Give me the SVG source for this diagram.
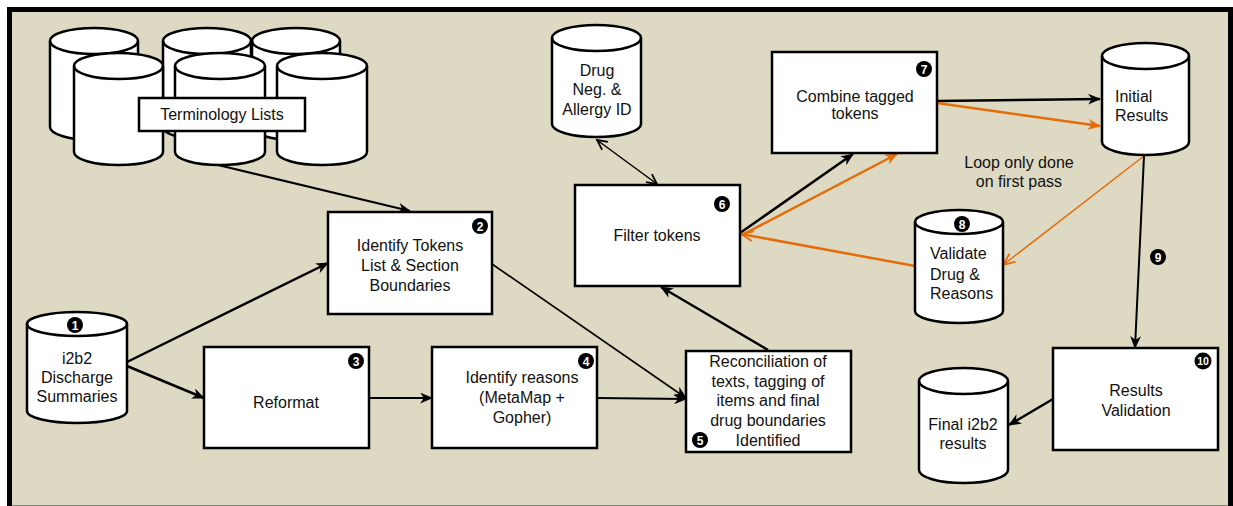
<svg xmlns="http://www.w3.org/2000/svg" width="1233" height="506" viewBox="0 0 1233 506">
<defs>
<style>
.box{fill:#fff;stroke:#000;stroke-width:2.5}
.cyl{fill:#fff;stroke:#000;stroke-width:2.5;stroke-linejoin:round}
.rim{fill:none;stroke:#000;stroke-width:2.5}
.t{font-family:"Liberation Sans",Arial,sans-serif;font-size:16px;fill:#111;text-anchor:middle}
.n{fill:#000}
.nt{font-family:"Liberation Sans",Arial,sans-serif;font-size:12px;font-weight:bold;fill:#fff;text-anchor:middle}
.k{fill:none;stroke:#000}
.o{fill:none;stroke:#E46C0A}
</style>
<marker id="ah" viewBox="0 0 12 10" refX="11" refY="5" markerWidth="13" markerHeight="11" markerUnits="userSpaceOnUse" orient="auto"><path d="M0,0 L12,5 L0,10 L3.5,5 Z" fill="#000"/></marker>
<marker id="aho" viewBox="0 0 12 10" refX="11" refY="5" markerWidth="13" markerHeight="11" markerUnits="userSpaceOnUse" orient="auto"><path d="M0,0 L12,5 L0,10 L3.5,5 Z" fill="#E46C0A"/></marker>
<marker id="av" viewBox="0 0 12 12" refX="11" refY="6" markerWidth="12" markerHeight="12" markerUnits="userSpaceOnUse" orient="auto-start-reverse"><path d="M1,1 L11,6 L1,11" fill="none" stroke="#000" stroke-width="1.8"/></marker>
<marker id="avo" viewBox="0 0 14 12" refX="13" refY="6" markerWidth="14" markerHeight="12" markerUnits="userSpaceOnUse" orient="auto"><path d="M1,1 L13,6 L1,11" fill="none" stroke="#E46C0A" stroke-width="1.8"/></marker>
</defs>
<rect x="0" y="0" width="1233" height="506" fill="#fff"/>
<rect x="9.5" y="9.5" width="1221" height="500" fill="#DDD9C3" stroke="#000" stroke-width="5"/>
<line x1="12" y1="505.5" x2="1228" y2="505.5" stroke="#7f7f75" stroke-width="1"/>

<g id="terminology">
<path class="cyl" d="M50,41 V127 A44,13 0 0 0 138,127 V41 A44,13 0 0 0 50,41 Z"/><path class="rim" d="M50,41 A44,13 0 0 0 138,41"/>
<path class="cyl" d="M252,41 V127 A44,13 0 0 0 340,127 V41 A44,13 0 0 0 252,41 Z"/><path class="rim" d="M252,41 A44,13 0 0 0 340,41"/>
<path class="cyl" d="M163,41 V127 A44,13 0 0 0 251,127 V41 A44,13 0 0 0 163,41 Z"/><path class="rim" d="M163,41 A44,13 0 0 0 251,41"/>
<path class="cyl" d="M74,66 V152 A44.5,13 0 0 0 163,152 V66 A44.5,13 0 0 0 74,66 Z"/><path class="rim" d="M74,66 A44.5,13 0 0 0 163,66"/>
<path class="cyl" d="M175,66 V152 A45,13 0 0 0 265,152 V66 A45,13 0 0 0 175,66 Z"/><path class="rim" d="M175,66 A45,13 0 0 0 265,66"/>
<path class="cyl" d="M277,66 V152 A45,13 0 0 0 367,152 V66 A45,13 0 0 0 277,66 Z"/><path class="rim" d="M277,66 A45,13 0 0 0 367,66"/>
<rect class="box" x="139" y="98" width="166" height="33" stroke-width="2"/>
<text class="t" x="222" y="120">Terminology Lists</text>
</g>

<g id="connectors">
<line class="k" x1="218" y1="165" x2="410" y2="211" stroke-width="2" marker-end="url(#ah)"/>
<line class="k" x1="127" y1="362" x2="328" y2="263" stroke-width="2.5" marker-end="url(#ah)"/>
<line class="k" x1="127" y1="366" x2="204" y2="398" stroke-width="2.5" marker-end="url(#ah)"/>
<line class="k" x1="369" y1="398" x2="432" y2="398" stroke-width="2" marker-end="url(#ah)"/>
<line class="k" x1="597" y1="398" x2="686" y2="399" stroke-width="2" marker-end="url(#ah)"/>
<line class="k" x1="492" y1="264" x2="686" y2="398" stroke-width="1.6" marker-end="url(#ah)"/>
<line class="k" x1="768" y1="350" x2="661" y2="287" stroke-width="2.5" marker-end="url(#ah)"/>
<line class="k" x1="597" y1="140" x2="657" y2="184" stroke-width="1.5" marker-start="url(#av)" marker-end="url(#av)"/>
<line class="k" x1="740" y1="233" x2="853" y2="154" stroke-width="2.5" marker-end="url(#ah)"/>
<line class="o" x1="742" y1="235" x2="897" y2="154" stroke-width="2.5" marker-end="url(#aho)"/>
<line class="k" x1="937" y1="101" x2="1100" y2="99" stroke-width="2.5" marker-end="url(#ah)"/>
<line class="o" x1="937" y1="103" x2="1100" y2="126" stroke-width="2.5" marker-end="url(#aho)"/>
<line class="o" x1="1144" y1="156" x2="1003" y2="265" stroke-width="1.5" marker-end="url(#avo)"/>
<line class="o" x1="915" y1="266" x2="741" y2="234" stroke-width="2.5" marker-end="url(#avo)"/>
<line class="k" x1="1144" y1="156" x2="1135" y2="348" stroke-width="2" marker-end="url(#ah)"/>
<line class="k" x1="1053" y1="399" x2="1009" y2="425" stroke-width="2.5" marker-end="url(#ah)"/>
</g>

<g id="i2b2">
<path class="cyl" d="M27,324 V411 A50,12 0 0 0 127,411 V324 A50,12 0 0 0 27,324 Z"/><path class="rim" d="M27,324 A50,12 0 0 0 127,324"/>
<circle class="n" cx="75" cy="325" r="8"/><text class="nt" x="75" y="329.5">1</text>
<text class="t" x="77" y="364">i2b2</text>
<text class="t" x="77" y="383">Discharge</text>
<text class="t" x="77" y="402">Summaries</text>
</g>

<g id="identify-tokens">
<rect class="box" x="328" y="212" width="164" height="102"/>
<circle class="n" cx="480" cy="226" r="8"/><text class="nt" x="480" y="230.5">2</text>
<text class="t" x="410" y="251">Identify Tokens</text>
<text class="t" x="410" y="271">List &amp; Section</text>
<text class="t" x="410" y="291">Boundaries</text>
</g>

<g id="reformat">
<rect class="box" x="204" y="347" width="165" height="101"/>
<circle class="n" cx="356" cy="361" r="8"/><text class="nt" x="356" y="365.5">3</text>
<text class="t" x="286" y="408">Reformat</text>
</g>

<g id="identify-reasons">
<rect class="box" x="432" y="347" width="165" height="101"/>
<circle class="n" cx="586" cy="361" r="8"/><text class="nt" x="586" y="365.5">4</text>
<text class="t" x="522" y="383">Identify reasons</text>
<text class="t" x="522" y="403">(MetaMap +</text>
<text class="t" x="522" y="423">Gopher)</text>
</g>

<g id="reconciliation">
<rect class="box" x="686" y="351" width="165" height="101"/>
<circle class="n" cx="700" cy="440" r="8"/><text class="nt" x="700" y="444.5">5</text>
<text class="t" x="768" y="367">Reconciliation of</text>
<text class="t" x="768" y="387">texts, tagging of</text>
<text class="t" x="768" y="406">items and final</text>
<text class="t" x="768" y="426">drug boundaries</text>
<text class="t" x="768" y="446">Identified</text>
</g>

<g id="drug-neg">
<path class="cyl" d="M552,38 V124 A44.5,13 0 0 0 641,124 V38 A44.5,13 0 0 0 552,38 Z"/><path class="rim" d="M552,38 A44.5,13 0 0 0 641,38"/>
<text class="t" x="597" y="76">Drug</text>
<text class="t" x="597" y="95">Neg. &amp;</text>
<text class="t" x="597" y="115">Allergy ID</text>
</g>

<g id="filter-tokens">
<rect class="box" x="575" y="185" width="165" height="101"/>
<circle class="n" cx="722" cy="204" r="8"/><text class="nt" x="722" y="208.5">6</text>
<text class="t" x="657" y="241">Filter tokens</text>
</g>

<g id="combine">
<rect class="box" x="772" y="52" width="165" height="101"/>
<circle class="n" cx="924" cy="69" r="8"/><text class="nt" x="924" y="73.5">7</text>
<text class="t" x="855" y="102">Combine tagged</text>
<text class="t" x="855" y="119">tokens</text>
</g>

<g id="initial-results">
<path class="cyl" d="M1102,56 V142 A43.5,13 0 0 0 1189,142 V56 A43.5,13 0 0 0 1102,56 Z"/><path class="rim" d="M1102,56 A43.5,13 0 0 0 1189,56"/>
<text class="t" x="1115" y="102" style="text-anchor:start">Initial</text>
<text class="t" x="1115" y="121" style="text-anchor:start">Results</text>
</g>

<g id="loop-note">
<text class="t" x="1019" y="168">Loop only done</text>
<text class="t" x="1019" y="187">on first pass</text>
</g>

<g id="validate">
<path class="cyl" d="M915,222 V311 A44,12 0 0 0 1003,311 V222 A44,12 0 0 0 915,222 Z"/><path class="rim" d="M915,222 A44,12 0 0 0 1003,222"/>
<circle class="n" cx="962" cy="224" r="8"/><text class="nt" x="962" y="228.5">8</text>
<text class="t" x="930" y="259" style="text-anchor:start">Validate</text>
<text class="t" x="930" y="280" style="text-anchor:start">Drug &amp;</text>
<text class="t" x="930" y="299" style="text-anchor:start">Reasons</text>
</g>

<g id="step9">
<circle class="n" cx="1158" cy="257" r="8"/><text class="nt" x="1158" y="261.5">9</text>
</g>

<g id="results-validation">
<rect class="box" x="1053" y="348" width="165" height="102"/>
<circle class="n" cx="1203" cy="361" r="8.5"/><text class="nt" x="1203" y="365" style="font-size:10.5px">10</text>
<text class="t" x="1136" y="396">Results</text>
<text class="t" x="1136" y="416">Validation</text>
</g>

<g id="final-results">
<path class="cyl" d="M919,381 V470 A44.5,13 0 0 0 1008,470 V381 A44.5,13 0 0 0 919,381 Z"/><path class="rim" d="M919,381 A44.5,13 0 0 0 1008,381"/>
<text class="t" x="963" y="430">Final i2b2</text>
<text class="t" x="963" y="449">results</text>
</g>
</svg>
